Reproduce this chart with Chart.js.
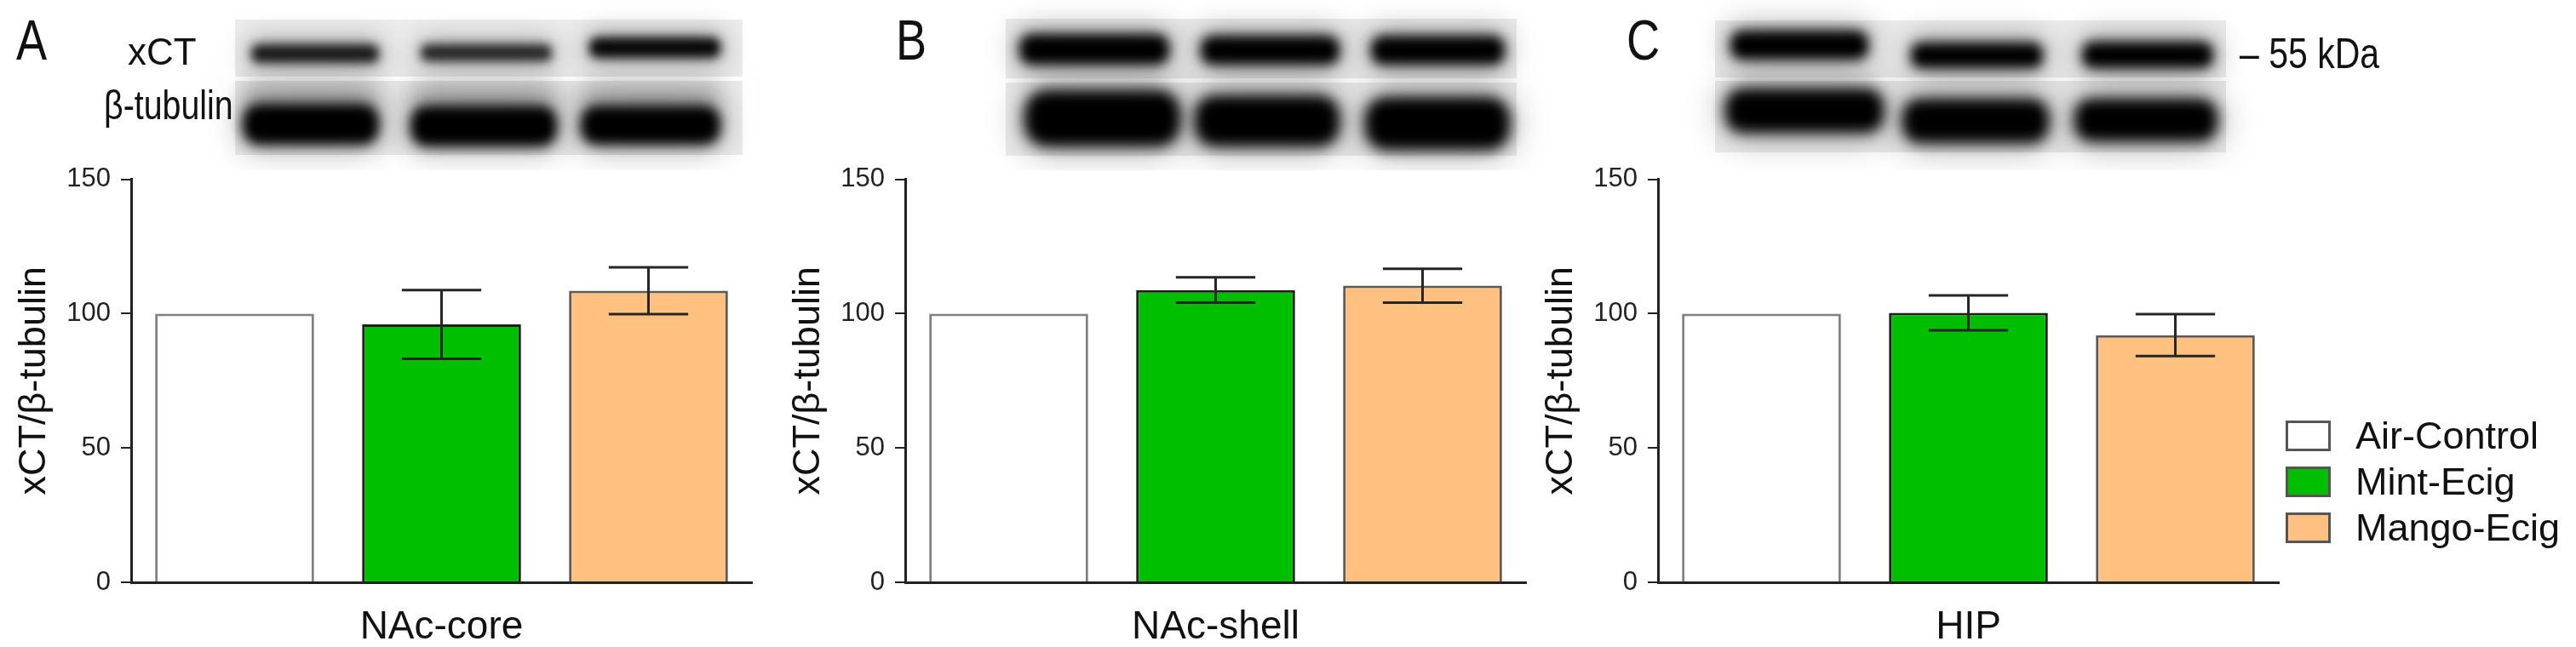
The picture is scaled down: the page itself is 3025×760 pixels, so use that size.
<!DOCTYPE html>
<html>
<head>
<meta charset="utf-8">
<script src="https://cdn.jsdelivr.net/npm/chart.js@4.4.1/dist/chart.umd.min.js"></script>
<style>
  body { margin: 0; background: #fff; width: 3025px; height: 760px; position: relative; overflow: hidden;
         font-family: "Liberation Sans", Arial, sans-serif; color: #111; }
  canvas.chart { position: absolute; top: 180px; }
  .lbl { position: absolute; white-space: nowrap; line-height: 1; transform-origin: 0 0; }
  .narrow { transform: scaleX(0.82); }
  .legend { position: absolute; left: 2684px; top: 485px; }
  .legend div { display: flex; align-items: center; height: 54px; font-size: 45px; }
  .legend span.sw { display: inline-block; width: 47px; height: 30px; border: 3px solid #555; margin-right: 29px; }
</style>
</head>
<body>
<canvas id="blots" width="3025" height="200" style="position:absolute;left:0;top:0"></canvas>
<div class="lbl narrow" style="left:19px;top:14px;font-size:66px">A</div>
<div class="lbl" style="left:150px;top:39px;font-size:44px">xCT</div>
<div class="lbl narrow" style="left:122px;top:100px;font-size:48px">β-tubulin</div>
<div class="lbl narrow" style="left:1052px;top:14px;font-size:66px">B</div>
<div class="lbl narrow" style="left:1910px;top:14px;font-size:66px">C</div>
<div class="lbl narrow" style="left:2630px;top:38px;font-size:50px">– 55 kDa</div>

<canvas class="chart" id="chartA" width="900" height="580" style="left:0px"></canvas>
<canvas class="chart" id="chartB" width="900" height="580" style="left:909px"></canvas>
<canvas class="chart" id="chartC" width="900" height="580" style="left:1793px"></canvas>

<div class="legend" id="legend"></div>

<script>
// groups and regions
const groups = ["Air-Control", "Mint-Ecig", "Mango-Ecig"];
const regions = ["NAc-core", "NAc-shell", "HIP"];

// xCT/β-tubulin, % of air control (mean and SEM)
const coreMean = [100, 96, 108.5];
const coreSem = [0, 12.8, 8.7];
const shellMean = [100, 108.8, 110.4];
const shellSem = [0, 4.7, 6.3];
const hipMean = [100, 100.3, 92];
const hipSem = [0, 6.5, 7.8];

const yTicks = [0, 50, 100, 150];

const fills = ["#ffffff", "#00bf00", "#ffc080"];
const edges = ["#808080", "#1e1e1e", "#5a5a5a"];
const family = "'Liberation Sans', Arial, sans-serif";

// western blot pictures (decoration only)
function drawBlots() {
  const ctx = document.getElementById("blots").getContext("2d");
  function strip(x, y, w, h) {
    ctx.fillStyle = "#ececec";
    ctx.fillRect(x, y, w, h);
  }
  function band(x, y, w, h, blur, alpha) {
    // soft halo, then the dense core
    ctx.save();
    ctx.filter = "blur(" + (blur * 2.5) + "px)";
    ctx.fillStyle = "rgba(0,0,0," + (alpha * 0.35) + ")";
    ctx.beginPath();
    ctx.roundRect(x - 4, y - 6, w + 8, h + 12, h / 2);
    ctx.fill();
    ctx.filter = "blur(" + blur + "px)";
    ctx.fillStyle = "rgba(0,0,0," + alpha + ")";
    ctx.beginPath();
    ctx.roundRect(x, y, w, h, h / 2.5);
    ctx.fill();
    ctx.restore();
  }
  // A
  strip(276, 23, 596, 67); strip(276, 95, 596, 87);
  band(295, 52, 150, 22, 6, 0.85); band(494, 52, 154, 20, 6, 0.8); band(692, 44, 154, 24, 6, 0.95);
  band(285, 102, 160, 22, 12, 0.25); band(482, 102, 172, 22, 12, 0.25); band(682, 102, 164, 22, 12, 0.25);
  band(285, 122, 160, 48, 7, 1); band(482, 124, 172, 48, 7, 1); band(682, 124, 164, 46, 7, 1);
  // B
  strip(1181, 22, 600, 70); strip(1181, 97, 600, 86);
  band(1197, 40, 176, 36, 7, 1); band(1410, 42, 163, 34, 7, 1); band(1610, 42, 157, 34, 7, 1);
  band(1203, 106, 183, 66, 8, 1); band(1403, 112, 170, 60, 8, 1); band(1603, 114, 170, 62, 8, 1);
  // C
  strip(2014, 24, 600, 67); strip(2014, 95, 600, 84);
  band(2032, 36, 162, 34, 7, 1); band(2244, 50, 155, 30, 7, 1); band(2445, 49, 154, 31, 7, 1);
  band(2026, 104, 186, 52, 8, 1); band(2234, 116, 172, 52, 8, 1); band(2436, 116, 168, 50, 8, 1);
}
drawBlots();

// error bars drawn through the y scale
const errorBars = {
  id: "errorBars",
  afterDatasetsDraw(chart) {
    const { ctx, scales: { y } } = chart;
    const ds = chart.data.datasets[0];
    const meta = chart.getDatasetMeta(0);
    ctx.save();
    ctx.strokeStyle = "#262626";
    ctx.lineWidth = 3;
    meta.data.forEach((bar, i) => {
      if (!ds.sem[i]) return;
      const top = y.getPixelForValue(ds.data[i] + ds.sem[i]);
      const bot = y.getPixelForValue(ds.data[i] - ds.sem[i]);
      const half = bar.width / 4;
      ctx.beginPath();
      ctx.moveTo(bar.x, top); ctx.lineTo(bar.x, bot);
      ctx.moveTo(bar.x - half, top); ctx.lineTo(bar.x + half, top);
      ctx.moveTo(bar.x - half, bot); ctx.lineTo(bar.x + half, bot);
      ctx.stroke();
    });
    ctx.restore();
  }
};

function makeChart(id, region, mean, sem) {
  return new Chart(document.getElementById(id), {
    type: "bar",
    data: {
      labels: groups,
      datasets: [{
        data: mean,
        sem: sem,
        backgroundColor: fills,
        borderColor: edges,
        borderWidth: 3,
        borderSkipped: "bottom",
        barPercentage: 0.768,
        categoryPercentage: 1
      }]
    },
    options: {
      responsive: false,
      animation: false,
      layout: { padding: { top: 21, right: 17, left: 0, bottom: 0 } },
      plugins: { legend: { display: false }, tooltip: { enabled: false } },
      scales: {
        x: {
          grid: { display: false },
          ticks: { display: false },
          border: { display: true, color: "#222", width: 3 },
          title: { display: true, text: region, color: "#111", font: { size: 46, family, lineHeight: 1 }, padding: { top: 0, bottom: 0 } },
          afterFit: s => { s.height = 76; }
        },
        y: {
          min: 0,
          max: 150,
          afterBuildTicks: s => { s.ticks = yTicks.map(v => ({ value: v })); },
          grid: { drawOnChartArea: false, drawTicks: true, tickLength: 12, color: "#222", lineWidth: 2 },
          border: { display: true, color: "#222", width: 3 },
          ticks: { color: "#222", padding: 12, font: { size: 31, family } },
          title: { display: true, text: "xCT/β-tubulin", color: "#111", font: { size: 45, family }, padding: { top: 14, bottom: 0 } },
          afterFit: s => { s.width = 154; }
        }
      }
    },
    plugins: [errorBars]
  });
}

makeChart("chartA", regions[0], coreMean, coreSem);
makeChart("chartB", regions[1], shellMean, shellSem);
makeChart("chartC", regions[2], hipMean, hipSem);

// legend
const legend = document.getElementById("legend");
groups.forEach((g, i) => {
  const row = document.createElement("div");
  row.innerHTML = '<span class="sw" style="background:' + fills[i] + '"></span>' + g;
  legend.appendChild(row);
});
</script>
</body>
</html>
